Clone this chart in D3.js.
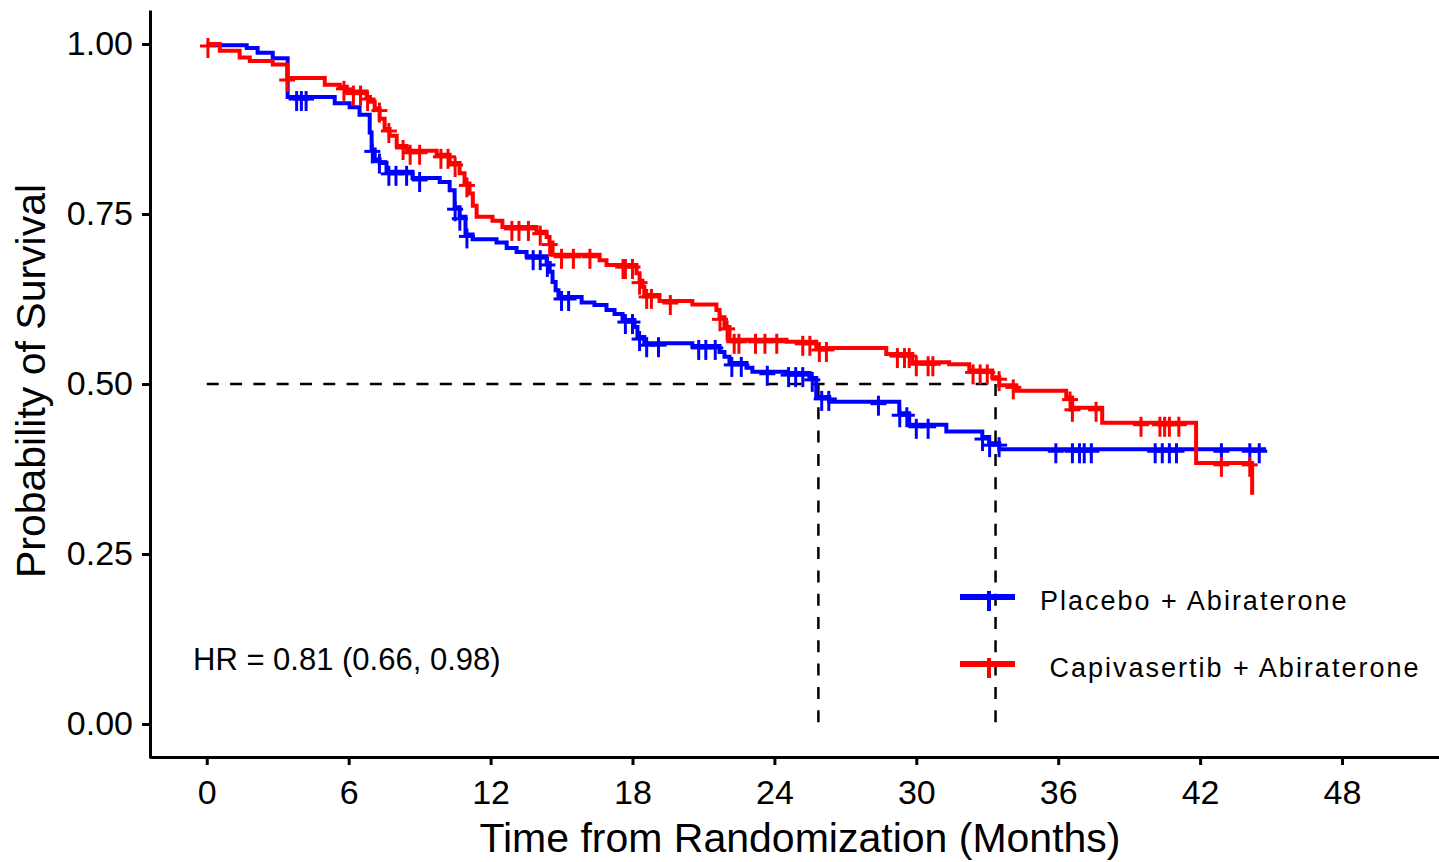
<!DOCTYPE html>
<html>
<head lang="en">
  <meta charset="UTF-8">
  <title>Kaplan-Meier survival</title>
</head>
<style>
  body { margin: 0; background: #fff; }
  #chart text { font-family: "Liberation Sans", Arial, sans-serif; fill: #000; }
  #chart .domain, #chart .tick line { stroke: #000; stroke-width: 3; }
</style>
<body>

<svg id="chart" width="1439" height="862"></svg>

<script src="https://cdn.jsdelivr.net/npm/d3@7"></script>
<script>
  // Step points (time in months, survival after that time)
  var placeboTime = [0, 0.42, 1.69, 2.15, 2.79, 3.42, 5.41, 6.04, 6.46, 6.89, 6.97, 7.1, 7.31, 7.6, 8.7, 9.85,
    10.27, 10.48, 10.69, 10.94, 11.24, 12.25, 12.68, 13.1, 13.52, 14.37, 14.5, 14.62, 14.75, 14.87, 15.85,
    16.39, 16.9, 17.24, 17.58, 18.08, 18.21, 18.5, 20.53, 21.68, 21.89, 22.1, 22.82, 23.07, 24.51, 25.48,
    25.77, 26.32, 29.28, 29.7, 31.27, 32.79, 33.08, 33.51, 44.79];
  var placeboSurv = [1.0, 0.998, 0.994, 0.987, 0.979, 0.922, 0.913, 0.907, 0.896, 0.87, 0.845, 0.83, 0.825, 0.812, 0.803, 0.797,
    0.785, 0.76, 0.746, 0.72, 0.713, 0.708, 0.70, 0.694, 0.688, 0.678, 0.665, 0.65, 0.638, 0.628, 0.62,
    0.616, 0.609, 0.603, 0.594, 0.584, 0.569, 0.56, 0.556, 0.547, 0.54, 0.531, 0.524, 0.518, 0.516, 0.509,
    0.481, 0.474, 0.457, 0.44, 0.43, 0.422, 0.413, 0.404, 0.404];
  var placeboCens = [3.8, 4.0, 4.2, 7.0, 7.3, 7.7, 8.0, 8.45, 9.0, 10.5, 10.7, 11.0, 13.8, 14.1, 14.4, 15.0, 15.3,
    17.7, 18.0, 18.3, 18.6, 19.1, 20.8, 21.1, 21.5, 22.2, 22.6, 23.7, 24.6, 24.9, 25.2, 25.6, 26.0, 26.3, 28.4,
    29.3, 29.6, 30.0, 30.5, 32.8, 33.1, 33.5, 35.9, 36.6, 36.9, 37.1, 37.4, 40.1, 40.4, 40.7, 41.0, 42.9, 44.1, 44.5];

  var capiTime = [0, 0.55, 1.39, 1.82, 2.79, 3.4, 4.99, 5.62, 5.92, 6.76, 6.9, 7.1, 7.31, 7.52, 7.73, 8.03, 8.45,
    9.72, 10.27, 10.69, 10.9, 11.11, 11.25, 11.41, 12.08, 12.5, 13.94, 14.37, 14.49, 14.62, 16.61, 16.9, 18.17,
    18.3, 18.42, 18.5, 19.14, 20.53, 21.55, 21.68, 21.89, 22.1, 24.51, 25.77, 28.73, 29.83, 31.39, 32.24, 33.21,
    33.51, 34.23, 36.34, 36.59, 37.86, 41.83, 44.2];
  var capiSurv = [1.0, 0.99, 0.98, 0.975, 0.97, 0.95, 0.94, 0.937, 0.93, 0.922, 0.915, 0.905, 0.89, 0.875, 0.865, 0.85, 0.843,
    0.837, 0.825, 0.81, 0.795, 0.78, 0.762, 0.746, 0.74, 0.731, 0.724, 0.716, 0.708, 0.69, 0.682, 0.675, 0.663,
    0.652, 0.643, 0.631, 0.622, 0.617, 0.609, 0.598, 0.584, 0.565, 0.562, 0.553, 0.544, 0.532, 0.529, 0.52, 0.51,
    0.498, 0.49, 0.48, 0.465, 0.443, 0.384, 0.337];
  var capiCens = [0.05, 3.4, 5.8, 6.2, 6.5, 6.8, 7.3, 7.7, 8.3, 8.6, 9.0, 9.9, 10.2, 10.5, 11.0, 12.9, 13.2, 13.6,
    14.1, 14.5, 15.0, 15.5, 16.2, 17.6, 17.7, 18.0, 18.3, 18.6, 18.8, 19.6, 21.7, 22.0, 22.3, 22.5, 23.2, 23.6,
    24.1, 25.2, 25.5, 25.9, 26.2, 29.2, 29.5, 29.7, 30.0, 30.5, 30.7, 32.4, 32.7, 33.0, 33.5, 34.1, 36.5, 36.6,
    37.6, 39.5, 40.3, 40.5, 40.7, 41.1, 42.9, 44.1];

  var seriesNames = ['Placebo + Abiraterone', ' Capivasertib + Abiraterone'];
  var seriesColors = ['#0000ff', '#ff0000'];
  var medians = [25.86, 33.35];
  var xTicks = [0, 6, 12, 18, 24, 30, 36, 42, 48];
  var yTicks = [0, 0.25, 0.5, 0.75, 1.0];
  var hrLabel = 'HR = 0.81 (0.66, 0.98)';

  var x = d3.scaleLinear().domain([-2.4, 52.1]).range([150, 1439]);
  var y = d3.scaleLinear().domain([-0.05, 1.05]).range([758, 10]);

  var svg = d3.select('#chart');

  // axes
  svg.append('g')
    .attr('transform', 'translate(0,757)')
    .call(d3.axisBottom(x).tickValues(xTicks).tickSize(8).tickSizeOuter(0).tickPadding(15))
    .call(function(g) { g.selectAll('text').style('font-size', '34px').attr('dy', '0.71em'); });

  svg.append('g')
    .attr('transform', 'translate(150,0)')
    .call(d3.axisLeft(y).tickValues(yTicks).tickFormat(d3.format('.2f')).tickSize(8).tickSizeOuter(0).tickPadding(9))
    .call(function(g) { g.selectAll('text').style('font-size', '34px'); });

  svg.append('text')
    .attr('x', 800).attr('y', 852)
    .attr('text-anchor', 'middle')
    .style('font-size', '41px')
    .text('Time from Randomization (Months)');

  svg.append('text')
    .attr('transform', 'translate(45,381) rotate(-90)')
    .attr('text-anchor', 'middle')
    .style('font-size', '41px')
    .text('Probability of Survival');

  // median guide lines
  var dash = '12,11.3';
  svg.append('line')
    .attr('x1', x(0)).attr('x2', x(d3.max(medians)))
    .attr('y1', y(0.5)).attr('y2', y(0.5))
    .attr('stroke', '#000').attr('stroke-width', 2.5).attr('stroke-dasharray', dash);
  svg.selectAll('.median')
    .data(medians)
    .enter().append('line')
    .attr('x1', function(d) { return x(d); }).attr('x2', function(d) { return x(d); })
    .attr('y1', y(0.5)).attr('y2', y(0))
    .attr('stroke', '#000').attr('stroke-width', 2.5).attr('stroke-dasharray', dash);

  // survival curves
  var series = [
    { time: placeboTime, surv: placeboSurv, cens: placeboCens },
    { time: capiTime, surv: capiSurv, cens: capiCens }
  ];

  var line = d3.line()
    .x(function(d) { return x(d[0]); })
    .y(function(d) { return y(d[1]); })
    .curve(d3.curveStepAfter);

  function survAt(s, t) {
    var i = d3.bisectRight(s.time, t) - 1;
    return s.surv[Math.max(i, 0)];
  }

  series.forEach(function(s, k) {
    var pts = s.time.map(function(t, i) { return [t, s.surv[i]]; });
    svg.append('path')
      .attr('d', line(pts))
      .attr('fill', 'none')
      .attr('stroke', seriesColors[k])
      .attr('stroke-width', 4);

    var marks = svg.append('g').attr('stroke', seriesColors[k]).attr('stroke-width', 3);
    marks.selectAll('line')
      .data(s.cens)
      .enter().append('line')
      .attr('x1', function(d) { return x(d); }).attr('x2', function(d) { return x(d); })
      .attr('y1', function(d) { return y(survAt(s, d)) - 6; })
      .attr('y2', function(d) { return y(survAt(s, d)) + 14; });
    marks.selectAll('.h')
      .data(s.cens)
      .enter().append('line')
      .attr('x1', function(d) { return x(d) - 8; }).attr('x2', function(d) { return x(d) + 8; })
      .attr('y1', function(d) { return y(survAt(s, d)) + 2; })
      .attr('y2', function(d) { return y(survAt(s, d)) + 2; });
  });

  // HR annotation
  svg.append('text')
    .attr('x', 193).attr('y', 670)
    .style('font-size', '31px')
    .text(hrLabel);

  // legend
  var legend = svg.selectAll('.legend')
    .data(seriesNames)
    .enter().append('g')
    .attr('transform', function(d, i) { return 'translate(960,' + (597 + i * 67) + ')'; });
  legend.append('line')
    .attr('x1', 0).attr('x2', 55)
    .attr('stroke', function(d, i) { return seriesColors[i]; })
    .attr('stroke-width', 6);
  legend.append('line')
    .attr('x1', 29).attr('x2', 29).attr('y1', -6).attr('y2', 14)
    .attr('stroke', function(d, i) { return seriesColors[i]; })
    .attr('stroke-width', 4);
  legend.append('text')
    .attr('x', 80).attr('y', 13)
    .style('font-size', '27px')
    .style('letter-spacing', '2px')
    .style('white-space', 'pre')
    .text(function(d) { return d; });
</script>
</body>
</html>
